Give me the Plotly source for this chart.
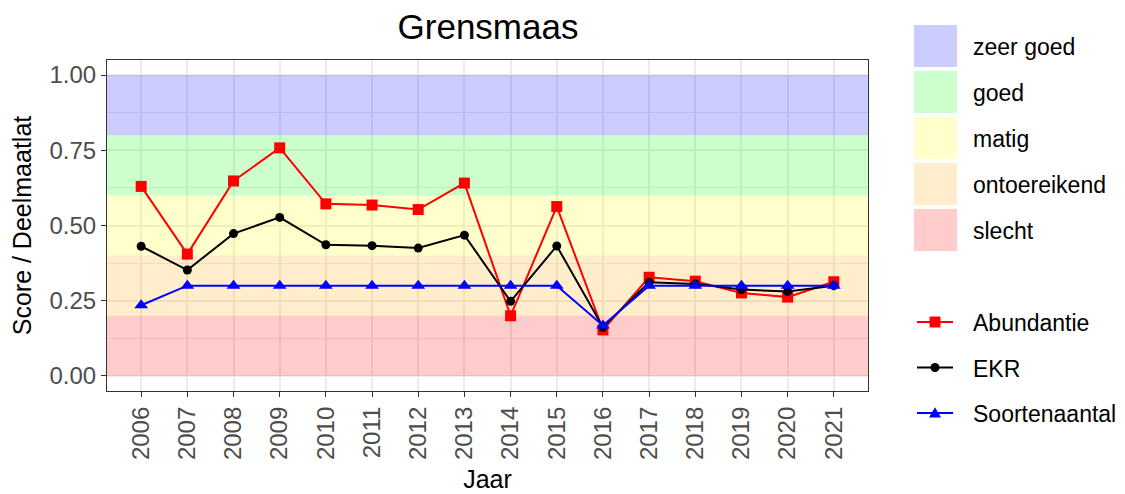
import plotly.graph_objects as go

# data
years = list(range(2006, 2022))
abundantie = [0.63, 0.405, 0.648, 0.758, 0.572, 0.568, 0.553, 0.641,
              0.200, 0.563, 0.153, 0.328, 0.315, 0.276, 0.262, 0.313]
ekr = [0.431, 0.352, 0.473, 0.527, 0.436, 0.433, 0.425, 0.468,
       0.248, 0.432, 0.162, 0.311, 0.306, 0.287, 0.281, 0.300]
soortenaantal = [0.235, 0.30, 0.30, 0.30, 0.30, 0.30, 0.30, 0.30,
                 0.30, 0.30, 0.168, 0.30, 0.30, 0.30, 0.30, 0.30]

band_names = ["zeer goed", "goed", "matig", "ontoereikend", "slecht"]
band_lower = [0.8, 0.6, 0.4, 0.2, 0.0]
band_upper = [1.0, 0.8, 0.6, 0.4, 0.2]
band_colors = ["rgba(0,0,255,0.2)", "rgba(0,255,0,0.2)", "rgba(255,255,0,0.2)",
               "rgba(255,165,0,0.2)", "rgba(255,0,0,0.2)"]
band_solid = ["#CCCCFF", "#CCFFCC", "#FFFFCC", "#FFEDCC", "#FFCCCC"]

x_range = [2005.26, 2021.74]
y_range = [-0.05, 1.05]

# page has an 8px body margin, so the figure is drawn 8px in from the corner
OFF = 8
W, H = 1125 - OFF, 494 - OFF
L, R, T, B = 107, 868, 60, 391  # panel position in the browser window


def px_x(p):
    return (p - L) / (R - L)


def px_y(p):
    return (B - p) / (B - T)


FONT = "Liberation Sans, Arial, sans-serif"

fig = go.Figure()

# quality bands (semi transparent so the grid shows through, like ggplot)
for lo, hi, col in zip(band_lower, band_upper, band_colors):
    fig.add_trace(go.Scatter(
        x=[x_range[0], x_range[1], x_range[1], x_range[0]],
        y=[lo, lo, hi, hi], fill="toself", fillcolor=col, mode="none",
        showlegend=False, hoverinfo="skip",
    ))

series = [
    ("Abundantie", abundantie, "#FF0000", "square", 11),
    ("EKR", ekr, "#000000", "circle", 9),
    ("Soortenaantal", soortenaantal, "#0000FF", "triangle-up", 12),
]
for name, vals, col, sym, sz in series:
    fig.add_trace(go.Scatter(
        x=years, y=vals, name=name, mode="lines+markers",
        line=dict(color=col, width=2),
        marker=dict(symbol=sym, size=sz, color=col),
    ))

# legend for the bands (drawn by hand, ggplot style)
for i, (name, col) in enumerate(zip(band_names, band_solid)):
    top = 25 + i * 46
    fig.add_shape(type="rect", xref="paper", yref="paper",
                  x0=px_x(914), x1=px_x(957), y0=px_y(top + 42), y1=px_y(top),
                  fillcolor=col, line_width=0)
    fig.add_annotation(text=name, xref="paper", yref="paper",
                       x=px_x(971), y=px_y(top + 22), xanchor="left",
                       yanchor="middle", showarrow=False,
                       font=dict(size=23, color="black", family=FONT))

# legend for the series
for i, (name, vals, col, sym, sz) in enumerate(series):
    cy = 322 + i * 45.5
    cx = 935
    fig.add_shape(type="line", xref="paper", yref="paper",
                  x0=px_x(917), x1=px_x(953), y0=px_y(cy), y1=px_y(cy),
                  line=dict(color=col, width=2))
    h = sz / 2
    if sym == "square":
        fig.add_shape(type="rect", xref="paper", yref="paper",
                      x0=px_x(cx - h), x1=px_x(cx + h),
                      y0=px_y(cy + h), y1=px_y(cy - h),
                      fillcolor=col, line_width=0)
    elif sym == "circle":
        fig.add_shape(type="circle", xref="paper", yref="paper",
                      x0=px_x(cx - h), x1=px_x(cx + h),
                      y0=px_y(cy + h), y1=px_y(cy - h),
                      fillcolor=col, line_width=0)
    else:
        path = "M {},{} L {},{} L {},{} Z".format(
            px_x(cx - h), px_y(cy + h * 0.75), px_x(cx + h), px_y(cy + h * 0.75),
            px_x(cx), px_y(cy - h * 0.95))
        fig.add_shape(type="path", xref="paper", yref="paper", path=path,
                      fillcolor=col, line_width=0)
    fig.add_annotation(text=name, xref="paper", yref="paper",
                       x=px_x(971), y=px_y(cy + 1), xanchor="left",
                       yanchor="middle", showarrow=False,
                       font=dict(size=23, color="black", family=FONT))

fig.update_layout(
    width=W, height=H,
    margin=dict(l=L - OFF, r=W + OFF - R, t=T - OFF, b=H + OFF - B),
    paper_bgcolor="white", plot_bgcolor="white",
    font=dict(family=FONT, color="black"),
    title=dict(text="Grensmaas", x=px_x(488), xref="paper",
               y=1 - (27 - OFF) / H, yanchor="middle", xanchor="center",
               font=dict(size=35, color="black", family=FONT)),
    showlegend=False,
)

fig.update_xaxes(
    range=x_range, tickmode="array", tickvals=years,
    ticktext=[str(y) for y in years], tickangle=-90,
    tickfont=dict(size=24, color="#4D4D4D"),
    ticks="outside", ticklen=5, tickcolor="#333333",
    showgrid=True, gridcolor="#EBEBEB", gridwidth=1.5,
    showline=True, linecolor="#333333", linewidth=1.2, mirror=True,
    zeroline=False, automargin=False,
    title=dict(text="Jaar", font=dict(size=25, color="black"), standoff=11),
)
fig.update_yaxes(
    range=y_range, tickmode="array",
    tickvals=[0, 0.25, 0.5, 0.75, 1.0],
    ticktext=["0.00", "0.25", "0.50", "0.75", "1.00"],
    tickfont=dict(size=24, color="#4D4D4D"),
    ticks="outside", ticklen=5, tickcolor="#333333",
    showgrid=True, gridcolor="#EBEBEB", gridwidth=1.5,
    minor=dict(tickvals=[0.125, 0.375, 0.625, 0.875], showgrid=True,
               gridcolor="#EBEBEB", gridwidth=0.8, ticks=""),
    showline=True, linecolor="#333333", linewidth=1.2, mirror=True,
    zeroline=False, automargin=False,
    title=dict(text="Score / Deelmaatlat", font=dict(size=25, color="black"),
               standoff=11),
)

fig.write_html("out.html")
